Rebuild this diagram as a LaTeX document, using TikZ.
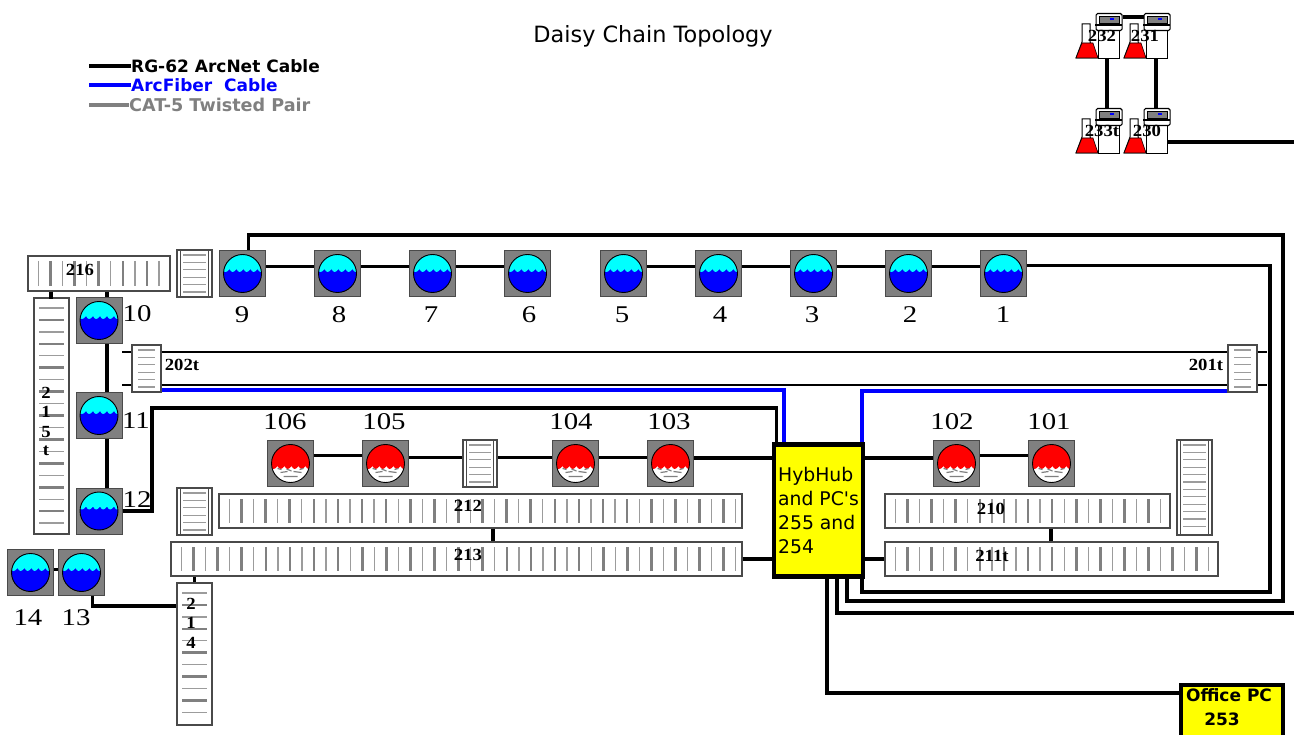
\documentclass[tikz,border=0pt]{standalone}
\usepackage{fontspec}
\newfontfamily\sansfont{DejaVu Sans}
\newfontfamily\numfont[FakeStretch=1.2]{Liberation Serif}
\newfontfamily\rackfont[FakeStretch=1.1]{Liberation Serif}
\definecolor{midgray}{HTML}{808080}
\definecolor{lightgray}{HTML}{9C9C9C}
\definecolor{rackline}{HTML}{4A4A4A}
\definecolor{hubyellow}{HTML}{FFFF00}
\definecolor{watertop}{HTML}{00FFFF}
\definecolor{pureblue}{HTML}{0000FF}
\definecolor{purered}{HTML}{FF0000}

% lower edge of the coloured part of a disc
\newcommand{\scallop}[1]{(-21,#1) .. controls (-18,#1+4) and (-16,#1+4) .. (-13,#1)
	.. controls (-11,#1+4) and (-9,#1+4) .. (-6,#1)
	.. controls (-4,#1+4) and (-2,#1+4) .. (1,#1)
	.. controls (3,#1+4) and (5,#1+4) .. (8,#1)
	.. controls (10,#1+4) and (12,#1+4) .. (15,#1)
	.. controls (17,#1+4) and (19,#1+4) .. (21,#1)}

\tikzset{
	cable/.style={line width=3.6pt, black},
	thincable/.style={line width=2.2pt, black},
	fibercable/.style={line width=3.4pt, pureblue},
	catcable/.style={line width=3.4pt, midgray},
	stationbox/.style={draw=rackline, line width=1pt, fill=midgray, minimum size=46pt, inner sep=0pt},
	bluestation/.style={stationbox, path picture={
		\begin{scope}[shift={(path picture bounding box.center)}]
			\fill[pureblue] (0,0) circle (19);
			\begin{scope}
				\clip (0,0) circle (19);
				\fill[watertop] (-21,-21) -- \scallop{-4.5} -- (21,-21) -- cycle;
			\end{scope}
			\draw[black, line width=0.9pt] (0,0) circle (19);
		\end{scope}}},
	redstation/.style={stationbox, path picture={
		\begin{scope}[shift={(path picture bounding box.center)}]
			\fill[white] (0,0) circle (19);
			\begin{scope}
				\clip (0,0) circle (19);
				\fill[purered] (-21,-21) -- \scallop{2.5} -- (21,-21) -- cycle;
				\draw[midgray, line width=1.2pt] (-10,9) -- (-3,8) (3,8) -- (11,9) (-7,13) -- (7,13)
					(-4,5.5) -- (1,7.5) (-13,5) -- (-9,6) (9,6) -- (13,5);
			\end{scope}
			\draw[black, line width=0.9pt] (0,0) circle (19);
		\end{scope}}},
	rackbox/.style={draw=rackline, line width=1.1pt, fill=white, inner sep=0pt},
	rackthin/.style={draw=lightgray, line width=1.3pt},
	rackthick/.style={draw=midgray, line width=2.6pt},
	racktext/.style={font=\rackfont\bfseries\fontsize{17}{17}\selectfont, inner sep=0pt},
	numtext/.style={font=\numfont\fontsize{24}{24}\selectfont, inner sep=0pt},
	hubbox/.style={draw=black, line width=4.4pt, fill=hubyellow, inner sep=0pt, align=left,
		font=\sansfont\fontsize{18.8}{24}\selectfont},
	legendtext/.style={font=\sansfont\bfseries\fontsize{17}{17}\selectfont, anchor=west, inner sep=0pt},
	towerbox/.style={draw=black, line width=1.1pt, fill=white, inner sep=0pt, minimum width=21pt, minimum height=28pt},
	monitorbox/.style={draw=black, line width=1.1pt, fill=white, rounded corners=1.5pt, inner sep=0pt,
		minimum width=26pt, minimum height=17pt},
}

% name, left, right, top, bottom
\newcommand{\hrack}[5]{
	\node[rackbox, minimum width=#3-#2, minimum height=#5-#4] (#1) at ({(#2+#3)/2},{(#4+#5)/2}) {};
	\pgfmathtruncatemacro{\tickmax}{(#3-#2-16)/12.05}
	\foreach \i in {0,...,\tickmax} {
		\ifodd\i
			\draw[rackthick] ({#2+10.5+12.05*\i},#4+5) -- ({#2+10.5+12.05*\i},#5-5);
		\else
			\draw[rackthin] ({#2+10.5+12.05*\i},#4+5) -- ({#2+10.5+12.05*\i},#5-5);
		\fi
	}
}
% name, left, right, top, bottom
\newcommand{\vrack}[5]{
	\node[rackbox, minimum width=#3-#2, minimum height=#5-#4] (#1) at ({(#2+#3)/2},{(#4+#5)/2}) {};
	\pgfmathtruncatemacro{\tickmax}{(#5-#4-12)/11.95}
	\foreach \i in {0,...,\tickmax} {
		\ifodd\i
			\draw[rackthick] (#2+5,{#4+10+11.95*\i}) -- (#3-5,{#4+10+11.95*\i});
		\else
			\draw[rackthin] (#2+5,{#4+10+11.95*\i}) -- (#3-5,{#4+10+11.95*\i});
		\fi
	}
}
% name, left, right, top, bottom
\newcommand{\srack}[5]{
	\node[rackbox, minimum width=#3-#2, minimum height=#5-#4] (#1) at ({(#2+#3)/2},{(#4+#5)/2}) {};
	\pgfmathtruncatemacro{\tickmax}{(#5-#4-8)/7.4}
	\foreach \i in {0,...,\tickmax} {
		\draw[rackthin] (#2+6,{#4+5+7.4*\i}) -- (#3-6,{#4+5+7.4*\i});
	}
}
% same, with the doubled sides
\newcommand{\drack}[5]{
	\srack{#1}{#2}{#3}{#4}{#5}
	\draw[rackline, line width=1.3pt] (#2+3.5,#4) -- (#2+3.5,#5) (#3-3.5,#4) -- (#3-3.5,#5);
}
% name, left, top, label, label x
\newcommand{\server}[5]{
	\draw[black, line width=1pt, fill=white] (#2+6,#3+12) -- (#2+14,#3+12) -- (#2+14,#3+30) -- (#2+22,#3+46)
		-- (#2,#3+46) -- (#2+6,#3+30) -- cycle;
	\fill[purered, draw=black, line width=0.6pt] (#2+6,#3+31) -- (#2+17,#3+31) -- (#2+22,#3+46) -- (#2,#3+46) -- cycle;
	\node[towerbox, anchor=north west] (#1) at (#2+22,#3+18) {};
	\node[monitorbox, anchor=north west] (#1m) at (#2+19.5,#3+1) {};
	\fill[midgray, draw=black, line width=0.7pt] (#2+23,#3+4) rectangle (#2+43,#3+11);
	\fill[pureblue] (#2+34,#3+6) rectangle (#2+38,#3+8);
	\draw[black, line width=1.1pt] (#2+19,#3+13) -- (#2+46,#3+13);
	\node[racktext] (#1t) at (#5,#3+24) {#4};
}

\begin{document}
\begin{tikzpicture}[x=1pt, y=-1pt]
	\useasboundingbox (0,0) rectangle (1294,735);

	\node[font=\sansfont\fontsize{22.4}{22.4}\selectfont, inner sep=0pt] (title) at (653,36) {Daisy Chain Topology};

	% legend
	\node[legendtext, black] (legarc) at (131,66) {RG-62 ArcNet Cable};
	\node[legendtext, pureblue] (legfiber) at (131,85) {ArcFiber\ \ Cable};
	\node[legendtext, midgray, font=\sansfont\bfseries\fontsize{17.6}{17.6}\selectfont] (legcat) at (129,105) {CAT-5 Twisted Pair};
	\draw[cable] (legarc.west) -- ++(-42,0);
	\draw[fibercable] (legfiber.west) -- ++(-42,0);
	\draw[catcable] (legcat.west) -- ++(-40,0);

	% servers
	\server{s232}{1076}{12}{232}{1102}
	\server{s231}{1124}{12}{231}{1145}
	\server{s233t}{1076}{107}{233t}{1102}
	\server{s230}{1124}{107}{230}{1147}
	\draw[cable] ([yshift=5pt]s232m.east) -- ([yshift=5pt]s231m.west);
	\draw[cable] ([xshift=-2pt]s232.south) -- ([xshift=-2pt]s232.south |- s233tm.north);
	\draw[cable] ([xshift=-1pt]s231.south) -- ([xshift=-1pt]s231.south |- s230m.north);
	\coordinate (edgetop) at (1294,142);
	\draw[cable] (s230.east |- edgetop) -- (edgetop);

	% blue stations
	\foreach \name/\x/\y in {n9/242.5/273.5, n8/337.5/273.5, n7/432.5/273.5, n6/527.5/273.5, n5/623.5/273.5,
		n4/718.5/273.5, n3/813.5/273.5, n2/908.5/273.5, n1/1003.5/273.5,
		n10/99/320.5, n11/99/415.5, n12/99/511, n14/30.5/572.5, n13/81.5/572.5}
		\node[bluestation] (\name) at (\x,\y) {};
	% red stations
	\foreach \name/\x/\y in {n106/290.5/463.5, n105/385.5/463.5, n104/575.5/463.5, n103/670.5/463.5,
		n102/956.5/463.5, n101/1051.5/463.5}
		\node[redstation] (\name) at (\x,\y) {};

	% station numbers
	\foreach \name/\x/\y/\txt in {t9/242/315/9, t8/339/315/8, t7/431/315/7, t6/529/315/6, t5/622/315/5,
		t4/720/315/4, t3/812/315/3, t2/910/315/2, t1/1003/315/1,
		t10/137/314/10, t11/136/421/11, t12/137/500/12, t14/28/618/14, t13/76/618/13,
		t106/285/422/106, t105/384/422/105, t104/571/422/104, t103/669/422/103, t102/952/422/102, t101/1049/422/101}
		\node[numtext] (\name) at (\x,\y) {\txt};

	% racks
	\hrack{r216}{28}{170}{256}{291}
	\vrack{r215t}{34}{69}{298}{534}
	\vrack{r214}{177}{212}{583}{725}
	\drack{r9}{177}{212}{250}{297}
	\srack{r202t}{132}{161}{345}{392}
	\srack{r201t}{1228}{1257}{345}{392}
	\drack{r105}{463}{497}{440}{487}
	\drack{r212a}{177}{212}{488}{535}
	\drack{r210a}{1177}{1212}{440}{535}
	\hrack{r212}{219}{742}{494}{528}
	\hrack{r213}{171}{742}{542}{576}
	\hrack{r210}{885}{1170}{494}{528}
	\hrack{r211t}{885}{1218}{542}{576}

	% rack labels
	\foreach \name/\x/\y/\txt in {t216/80/270/216, t212/468/506/212, t213/468/555/213, t210/991/509/210,
		t211t/992/556/211t, t202t/182/365/202t, t201t/1206/365/201t}
		\node[racktext] (\name) at (\x,\y) {\txt};
	\foreach \c/\y in {2/393, 1/412, 5/432, t/451}
		\node[racktext] (ta\c) at (46,\y) {\c};
	\foreach \c/\y in {2/604, 1/623, 4/643}
		\node[racktext] (tb\c) at (191,\y) {\c};

	% hub and office pc
	\node[hubbox, minimum width=89pt, minimum height=132pt] (hub) at (818.5,510.5)
		{HybHub\\and PC's\\255 and\\254};
	\node[hubbox, anchor=north, align=center, minimum width=102pt, line width=4pt, inner ysep=4pt,
		font=\sansfont\bfseries\fontsize{17}{24}\selectfont] (office) at (1232,683)
		{Office PC\rule{6pt}{0pt}\\253\rule{20pt}{0pt}\\ \mbox{}};

	% blue chain
	\foreach \a/\b in {n9/n8, n8/n7, n7/n6, n5/n4, n4/n3, n3/n2, n2/n1}
		\draw[cable] ([yshift=7pt]\a.east) -- ([yshift=7pt]\b.west);
	\draw[cable] ([xshift=8pt]n10.south) -- ([xshift=8pt]n11.north);
	\draw[cable] ([xshift=8pt]n11.south) -- ([xshift=8pt]n12.north);
	\draw[cable] ([yshift=3pt]n14.east) -- ([yshift=3pt]n13.west);
	\draw[cable] ([xshift=8pt]r216.south -| n10.north) -- ([xshift=8pt]n10.north);
	\draw[cable] (r216.south -| r215t.north) ++(-0.5,0) -- ++(0,7);
	\draw[cable] ([xshift=11pt]n13.south) |- (r214.west |- 0,606);
	\draw[cable] (r213.south -| r214.north) -- (r214.north);

	% long runs round the hub
	\draw[cable] ([xshift=6pt]n9.north) -- ++(0,-15) -| (1283,601) -| ([xshift=28.5pt]hub.south);
	\draw[cable] ([yshift=8pt]n1.east) -| (1270,592) -| ([xshift=43.5pt]hub.south);
	\coordinate (edgelow) at (1294,613);
	\draw[cable] ([xshift=18.5pt]hub.south) |- (edgelow);
	\draw[cable] ([xshift=8.5pt]hub.south) |- (office.west |- 0,693);
	\draw[cable] (n12.east) -| (152,408) -| ([xshift=-42pt]hub.north);

	% red chain
	\draw[cable] ([yshift=8pt]n106.east) -- ([yshift=8pt]n105.west);
	\draw[cable] ([yshift=6pt]n105.east) -- ([yshift=6pt]r105.west);
	\draw[cable] ([yshift=6pt]r105.east) -- ([yshift=6pt]n104.west);
	\draw[cable] ([yshift=6pt]n104.east) -- ([yshift=6pt]n103.west);
	\draw[cable] ([yshift=5.5pt]n103.east) -- (n103.east |- 0,458) -- (hub.west |- 0,458);
	\draw[cable] (hub.east |- 0,458) -- ([yshift=5.5pt]n102.west);
	\draw[cable] ([yshift=8pt]n102.east) -- ([yshift=8pt]n101.west);

	% rack links
	\draw[cable] (r212.south -| 493,0) -- (r213.north -| 493,0);
	\draw[cable] (r210.south -| 1051,0) -- (r211t.north -| 1051,0);
	\draw[cable] (r213.east) -- (r213.east -| hub.west);
	\draw[cable] (r211t.west) -- (r211t.west -| hub.east);

	% twisted pair and fibre
	\draw[thincable] ([yshift=16.5pt]r202t.east) -- ([yshift=16.5pt]r201t.west);
	\draw[thincable] ([yshift=-16.5pt]r202t.east) -- ([yshift=-16.5pt]r201t.west);
	\draw[thincable] ([yshift=16.5pt]r202t.west) -- ++(-9,0);
	\draw[thincable] ([yshift=-16.5pt]r202t.west) -- ++(-9,0);
	\draw[thincable] ([yshift=16.5pt]r201t.east) -- ++(9,0);
	\draw[thincable] ([yshift=-16.5pt]r201t.east) -- ++(9,0);
	\draw[fibercable] ([yshift=-21.5pt]r202t.east) -| ([xshift=-34.5pt]hub.north);
	\draw[fibercable] ([yshift=-22.5pt]r201t.west) -| ([xshift=43.5pt]hub.north);
\end{tikzpicture}
\end{document}
